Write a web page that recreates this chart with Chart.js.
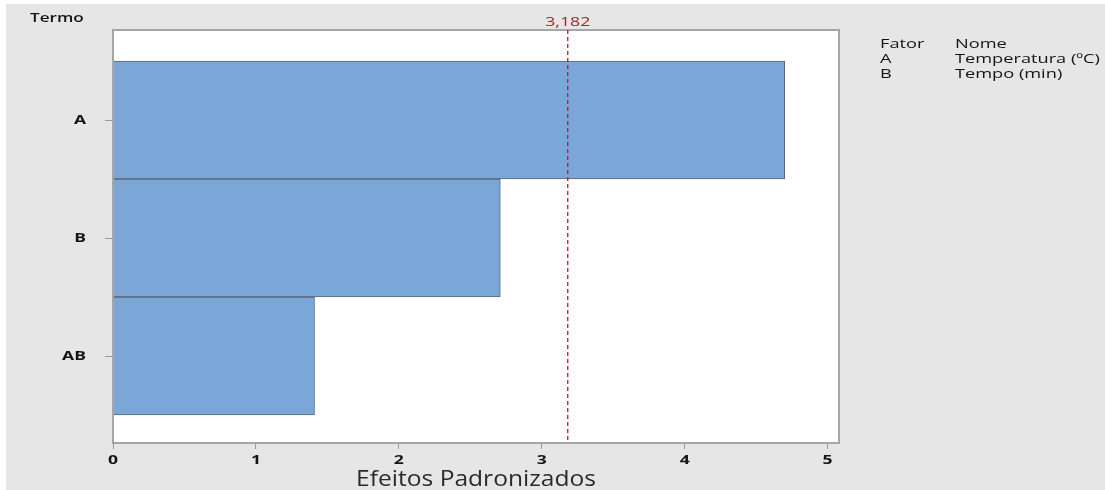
<!DOCTYPE html>
<html>
<head>
<meta charset="utf-8">
<script src="https://cdn.jsdelivr.net/npm/chart.js@4/dist/chart.umd.min.js"></script>
<style>
  html, body { margin: 0; padding: 0; background: #fff; }
  #wrap { position: absolute; left: 0; top: 0; width: 1105px; height: 490px; }
</style>
</head>
<body>
<div id="wrap"><canvas id="paretoChart" width="1105" height="490"></canvas></div>
<script>
// Terms (top to bottom) and their standardized effects
const terms = ["A", "B", "AB"];
const effects = [4.70, 2.71, 1.41];

// X axis tick values
const xTicks = [0, 1, 2, 3, 4, 5];

// Reference line (critical t value)
const criticalValue = 3.182;
const criticalLabel = "3,182";

// Factor legend on the right
const legendFactors = ["A", "B"];
const legendNames = ["Temperatura (ºC)", "Tempo (min)"];

const FONT = "'Open Sans', 'Noto Sans', sans-serif";
const TEXT = "#141414";

//The source image has horizontally stretched text - draw with a x-scale
function stretchedText(ctx, text, x, y, font, color, align, sx) {
  ctx.save();
  ctx.translate(x, y);
  ctx.scale(sx, 1);
  ctx.font = font;
  ctx.fillStyle = color;
  ctx.textAlign = align;
  ctx.textBaseline = "middle";
  ctx.fillText(text, 0, 0);
  ctx.restore();
}

//Gray frame, plot border, reference line and all texts
const decorations = {
  id: "decorations",
  beforeDraw(chart) {
    const ctx = chart.ctx;
    const a = chart.chartArea;
    ctx.save();
    ctx.fillStyle = "#e6e6e6";
    ctx.fillRect(6, 4, chart.width - 6, chart.height - 4);
    ctx.fillStyle = "#fff";
    ctx.fillRect(a.left, a.top, a.right - a.left, a.bottom - a.top);
    ctx.restore();
  },
  afterDatasetsDraw(chart) {
    const ctx = chart.ctx;
    const a = chart.chartArea;
    const xs = chart.scales.x;
    const ys = chart.scales.y;
    const x = xs.getPixelForValue(criticalValue);
    ctx.save();
    // plot border
    ctx.strokeStyle = "#a6a6a6";
    ctx.lineWidth = 2;
    ctx.strokeRect(a.left, a.top, a.right - a.left, a.bottom - a.top);
    // dashed reference line
    ctx.strokeStyle = "#d0101e";
    ctx.lineWidth = 1.3;
    ctx.setLineDash([4, 3]);
    ctx.beginPath();
    ctx.moveTo(x, a.top);
    ctx.lineTo(x, a.bottom);
    ctx.stroke();
    ctx.restore();

    stretchedText(ctx, criticalLabel, x, 22, "500 13px " + FONT, "#a0282d", "center", 1.36);
    stretchedText(ctx, "Termo", 30, 18, "600 13px " + FONT, TEXT, "left", 1.32);

    // tick labels
    xTicks.forEach((v) => {
      stretchedText(ctx, String(v), xs.getPixelForValue(v), 460, "bold 13px " + FONT, TEXT, "center", 1.35);
    });
    terms.forEach((t, i) => {
      stretchedText(ctx, t, 86, ys.getPixelForValue(i), "bold 13px " + FONT, TEXT, "right", 1.35);
    });
    stretchedText(ctx, "Efeitos Padronizados", (a.left + a.right) / 2, 480, "500 21px " + FONT, "#2b2b2b", "center", 1.17);

    // factor legend
    const lf = "500 13px " + FONT;
    stretchedText(ctx, "Fator", 880, 44, lf, TEXT, "left", 1.4);
    stretchedText(ctx, "Nome", 955, 44, lf, TEXT, "left", 1.4);
    legendFactors.forEach((f, i) => {
      stretchedText(ctx, f, 880, 59 + i * 15, lf, TEXT, "left", 1.4);
      stretchedText(ctx, legendNames[i], 955, 59 + i * 15, lf, TEXT, "left", 1.4);
    });
  },
};

new Chart(document.getElementById("paretoChart"), {
  type: "bar",
  data: {
    datasets: [
      {
        data: effects.map((v, i) => ({ x: v, y: i })),
        backgroundColor: "#7ba7d8",
        borderColor: "#5b6675",
        borderWidth: 1,
        barPercentage: 1,
        categoryPercentage: 1,
      },
    ],
  },
  options: {
    indexAxis: "y",
    responsive: false,
    animation: false,
    devicePixelRatio: 1,
    layout: { padding: { left: 0, top: 30, right: 266, bottom: 0 } },
    plugins: { legend: { display: false }, tooltip: { enabled: false } },
    scales: {
      x: {
        type: "linear",
        min: 0,
        max: 5.08,
        border: { display: false },
        grid: { drawOnChartArea: false, drawTicks: true, tickLength: 6, color: "#999" },
        afterBuildTicks(scale) {
          scale.ticks = xTicks.map((v) => ({ value: v }));
        },
        ticks: { display: false },
        afterFit(scale) { scale.height = 47; },
      },
      y: {
        type: "linear",
        reverse: true,
        offset: false,
        min: -0.763,
        max: 2.737,
        border: { display: false },
        grid: { offset: false, drawOnChartArea: false, drawTicks: true, tickLength: 8, color: "#999" },
        afterBuildTicks(scale) {
          scale.ticks = terms.map((t, i) => ({ value: i }));
        },
        ticks: { display: false },
        afterFit(scale) { scale.width = 113; },
      },
    },
  },
  plugins: [decorations],
});
</script>
</body>
</html>
